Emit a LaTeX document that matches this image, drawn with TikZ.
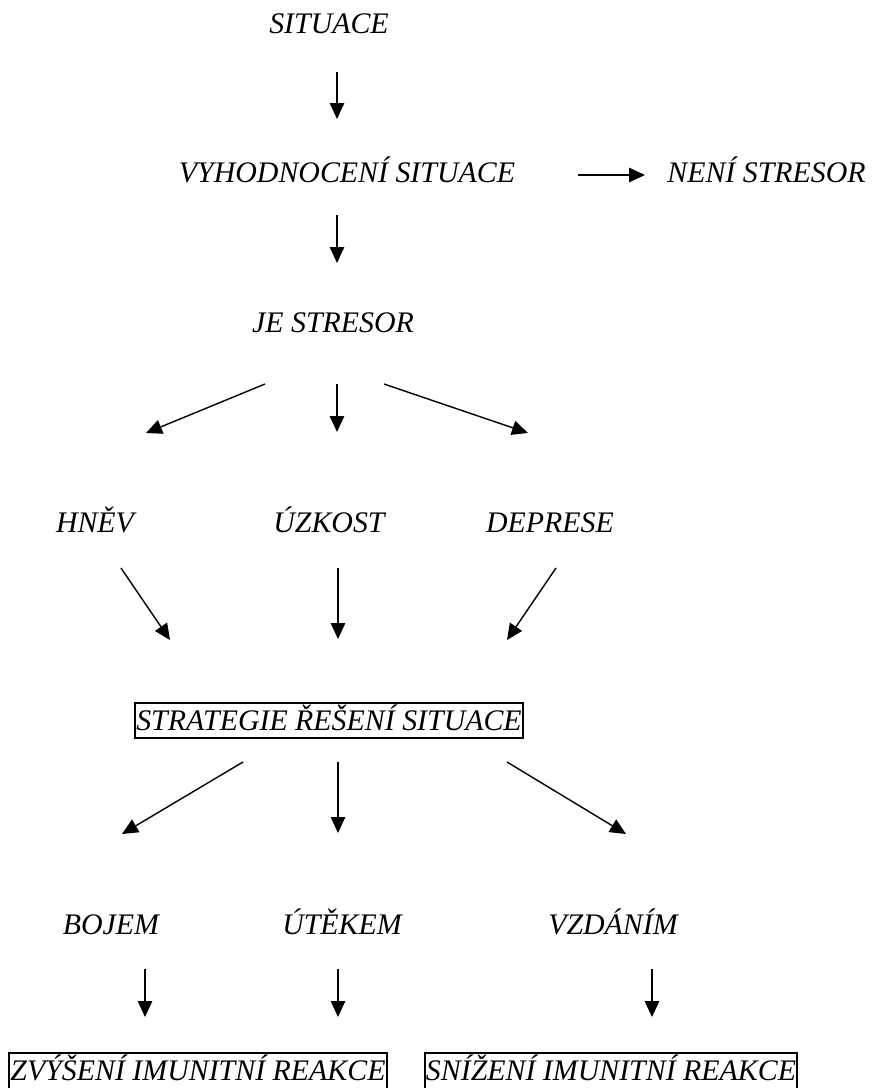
\documentclass[tikz,border=0pt]{standalone}
\usepackage{fontspec}
\setmainfont{Liberation Serif}
\usetikzlibrary{arrows.meta, positioning}

\begin{document}
\begin{tikzpicture}[
        x=0.02cm, y=-0.02cm,
        lbl/.style={font=\fontsize{17}{20}\selectfont\itshape,inner sep=0pt,anchor=base},
        box/.style={lbl,draw,line width=1.1pt,inner xsep=0.6pt,inner ysep=0.4pt,
                    text height=0.52cm,text depth=0.14cm},
        openbox/.style={box,text depth=0.3cm},
        arr/.style={-{Triangle[length=0.32cm,width=0.29cm]},line width=0.8pt}
      ]
        \useasboundingbox (0,0) rectangle (877,1088);

        % texts
        \node[lbl] (situace) at (329,34) {SITUACE};
        \node[lbl] (vyhod) at (347,182) {VYHODNOCENÍ SITUACE};
        \node[lbl,anchor=base west] (neni) at (667,182) {NENÍ STRESOR};
        \node[lbl] (jestresor) at (333,332) {JE STRESOR};
        \node[lbl] (hnev) at (95,532) {HNĚV};
        \node[lbl] (uzkost) at (329,532) {ÚZKOST};
        \node[lbl] (deprese) at (550,532) {DEPRESE};
        \node[box] (strategie) at (329,730) {STRATEGIE ŘEŠENÍ SITUACE};
        \node[lbl] (bojem) at (111,934) {BOJEM};
        \node[lbl] (utekem) at (342,934) {ÚTĚKEM};
        \node[lbl] (vzdanim) at (613,934) {VZDÁNÍM};
        \node[openbox] (zvyseni) at (198,1080) {ZVÝŠENÍ IMUNITNÍ REAKCE};
        \node[openbox] (snizeni) at (611,1080) {SNÍŽENÍ IMUNITNÍ REAKCE};

        % arrow ends
        \coordinate (sitA) at (337,72);   \coordinate (sitB) at (337,119);
        \coordinate (vyhA) at (337,215);  \coordinate (vyhB) at (337,263);
        \coordinate (neA) at (578,175);   \coordinate (neB) at (645,175);
        \coordinate (jeLA) at (265,384);  \coordinate (jeLB) at (146,433);
        \coordinate (jeMA) at (337,384);  \coordinate (jeMB) at (337,432);
        \coordinate (jeRA) at (384,384);  \coordinate (jeRB) at (528,433);
        \coordinate (hnA) at (121,568);   \coordinate (hnB) at (170,640);
        \coordinate (uzA) at (338,568);   \coordinate (uzB) at (338,639);
        \coordinate (deA) at (556,568);   \coordinate (deB) at (507,640);
        \coordinate (stLA) at (243,762);  \coordinate (stLB) at (122,834);
        \coordinate (stMA) at (338,762);  \coordinate (stMB) at (338,833);
        \coordinate (stRA) at (507,762);  \coordinate (stRB) at (626,834);
        \coordinate (boA) at (145,969);   \coordinate (boB) at (145,1017);
        \coordinate (utA) at (338,969);   \coordinate (utB) at (338,1017);
        \coordinate (vzA) at (652,969);   \coordinate (vzB) at (652,1017);

        \draw[arr](sitA)--(sitB); \draw[arr](vyhA)--(vyhB); \draw[arr](neA)--(neB);
        \draw[arr](jeLA)--(jeLB); \draw[arr](jeMA)--(jeMB); \draw[arr](jeRA)--(jeRB);
        \draw[arr](hnA)--(hnB); \draw[arr](uzA)--(uzB); \draw[arr](deA)--(deB);
        \draw[arr](stLA)--(stLB); \draw[arr](stMA)--(stMB); \draw[arr](stRA)--(stRB);
        \draw[arr](boA)--(boB); \draw[arr](utA)--(utB); \draw[arr](vzA)--(vzB);
      \end{tikzpicture}
\end{document}
